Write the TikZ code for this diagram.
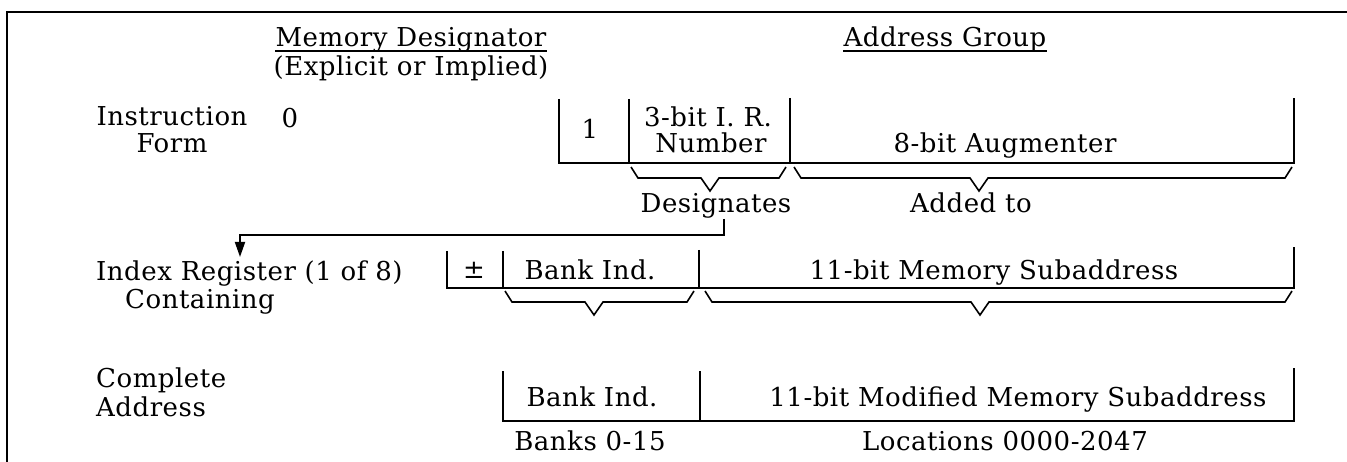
\documentclass[tikz,border=0pt]{standalone}
\usepackage{fontspec}
\setmainfont{DejaVu Serif}[LetterSpace=2]
\usetikzlibrary{arrows.meta}
\tikzset{
  rule/.style={line width=1.8pt, line cap=butt, line join=miter},
  bracerule/.style={line width=1.6pt, line join=miter},
  txt/.style={font=\fontsize{26}{31}\selectfont, inner sep=0pt, anchor=base},
  txtw/.style={txt, anchor=base west},
}
% field brace: left x, right x, tip x, top y
\newcommand{\fieldbrace}[4]{%
  \draw[bracerule] (#1,#4) -- ({#1+7},{#4+11}) -- ({#3-9},{#4+11})
    -- (#3,{#4+24}) -- ({#3+9},{#4+11}) -- ({#2-7},{#4+11}) -- (#2,#4);}

\begin{document}
\begin{tikzpicture}[x=1pt,y=-1pt]
\useasboundingbox (0,0) rectangle (1347,462);

% outer frame
\draw[rule] (7,462) -- (7,12) -- (1347,12);

% column headings
\node[txt] (md) at (411,47) {Memory Designator};
\draw[rule, line width=1.5pt] ([yshift=-4pt]md.base west) -- ([yshift=-4pt]md.base east);
\node[txt] (expl) at (411,76) {(Explicit or Implied)};
\node[txt] (ag) at (945,47) {Address Group};
\draw[rule, line width=1.5pt] ([yshift=-4pt]ag.base west) -- ([yshift=-4pt]ag.base east);

% instruction form
\node[txt] (instr) at (172,126) {Instruction};
\node[txt] (form) at (172,153) {Form};
\node[txt] (zero) at (290,128) {0};
\draw[rule] (559,99) -- (559,163) -- (1294,163) -- (1294,98);
\draw[rule] (629,99) -- (629,163);
\draw[rule] (790,98) -- (790,163);
\node[txt] (one) at (590,139) {1};
\node[txt] (irn1) at (708,127) {3-bit I. R.};
\node[txt] (irn2) at (711,153) {Number};
\node[txt] (aug) at (1005,153) {8-bit Augmenter};
\fieldbrace{631}{786}{710}{167}
\fieldbrace{794}{1292}{979}{167}
\node[txt] (des) at (716,213) {Designates};
\node[txt] (add) at (971,213) {Added to};

% designation arrow
\coordinate (bend) at (724,235);
\coordinate (target) at (240,257);
\draw[rule, -{Triangle[length=15pt,width=10pt]}] (des.south -| bend) -- (bend) -| (target);

% index register
\node[txtw] (ireg) at (96,281) {Index Register (1 of 8)};
\node[txtw] (cont) at (125,309) {Containing};
\draw[rule] (447,251) -- (447,288) -- (1294,288) -- (1294,247);
\draw[rule] (503,251) -- (503,288);
\draw[rule] (699,250) -- (699,288);
\node[txt] (pm) at (474,279) {±};
\node[txt] (bank1) at (590,280) {Bank Ind.};
\node[txt] (sub1) at (994,280) {11-bit Memory Subaddress};
\fieldbrace{505}{694}{594}{291}
\fieldbrace{705}{1292}{980}{291}

% complete address
\node[txtw] (compl) at (96,388) {Complete};
\node[txtw] (addr) at (96,416) {Address};
\draw[rule] (503,371) -- (503,421) -- (1294,421) -- (1294,368);
\draw[rule] (700,371) -- (700,421);
\node[txt] (bank2) at (592,406) {Bank Ind.};
\node[txt] (sub2) at (1018,406) {11-bit Modified Memory Subaddress};
\node[txt] (banks) at (590,450) {Banks 0-15};
\node[txt] (locs) at (1005,450) {Locations 0000-2047};
\end{tikzpicture}
\end{document}
